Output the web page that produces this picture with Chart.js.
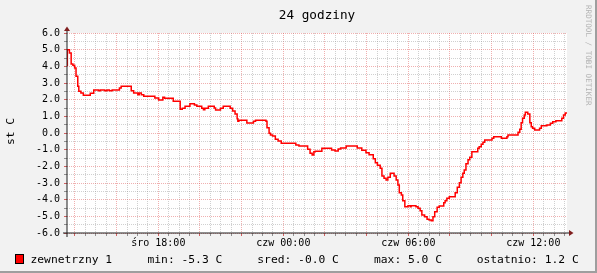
<!DOCTYPE html>
<html><head><meta charset="utf-8">
<script src="https://cdn.jsdelivr.net/npm/chart.js@4/dist/chart.umd.min.js"></script>
<style>html,body{margin:0;padding:0;background:#F2F2F2;overflow:hidden}canvas{display:block}</style>
</head><body>
<canvas id="c" width="597" height="273"></canvas>
<script>
// minutes since the start of the 24 h window (start = 13:37), value holds until next entry
const minutes = [
  0, 1, 7, 12, 17, 22, 26, 31, 34, 40,
  47, 67, 77, 91, 96, 109, 115, 122, 130, 151,
  156, 185, 192, 204, 208, 214, 221, 253, 264, 276,
  281, 306, 326, 332, 340, 354, 367, 374, 388, 393,
  397, 407, 424, 428, 442, 450, 470, 477, 484, 490,
  492, 495, 518, 537, 543, 573, 576, 582, 586, 592,
  600, 608, 617, 659, 668, 693, 700, 706, 711, 715,
  734, 762, 772, 781, 788, 804, 836, 849, 861, 870,
  882, 888, 894, 902, 907, 913, 919, 924, 931, 942,
  948, 953, 957, 963, 967, 973, 982, 989, 991, 1005,
  1011, 1017, 1022, 1030, 1037, 1043, 1049, 1054, 1059, 1066,
  1072, 1085, 1089, 1094, 1101, 1118, 1124, 1130, 1135, 1140,
  1144, 1149, 1155, 1160, 1166, 1183, 1187, 1193, 1198, 1203,
  1224, 1229, 1251, 1267, 1270, 1299, 1304, 1308, 1312, 1317,
  1320, 1327, 1333, 1337, 1341, 1347, 1361, 1366, 1382, 1392,
  1399, 1408, 1425, 1430, 1435, 1440
];
const temps = [
  4.06, 5.0, 4.8, 4.14, 4.06, 3.9, 3.4, 2.8, 2.5, 2.4,
  2.26, 2.38, 2.58, 2.54, 2.58, 2.54, 2.58, 2.54, 2.58, 2.7,
  2.8, 2.54, 2.4, 2.3, 2.4, 2.3, 2.2, 2.1, 1.98, 2.14,
  2.08, 1.9, 1.42, 1.48, 1.6, 1.76, 1.68, 1.6, 1.48, 1.4,
  1.48, 1.6, 1.5, 1.38, 1.48, 1.6, 1.48, 1.32, 1.14, 0.86,
  0.7, 0.76, 0.6, 0.7, 0.76, 0.7, 0.32, -0.02, -0.12, -0.18,
  -0.38, -0.48, -0.62, -0.72, -0.78, -0.98, -1.22, -1.32, -1.12, -1.1,
  -0.92, -1.02, -1.08, -0.96, -0.9, -0.78, -0.9, -1.04, -1.18, -1.3,
  -1.54, -1.78, -1.94, -2.12, -2.58, -2.72, -2.82, -2.66, -2.42, -2.58,
  -2.82, -3.12, -3.58, -3.72, -4.06, -4.42, -4.36, -4.42, -4.36, -4.42,
  -4.52, -4.66, -4.92, -5.02, -5.18, -5.22, -5.26, -5.02, -4.72, -4.46,
  -4.38, -4.18, -4.06, -3.92, -3.82, -3.58, -3.26, -2.98, -2.66, -2.42,
  -2.22, -1.85, -1.6, -1.45, -1.12, -0.92, -0.82, -0.68, -0.56, -0.42,
  -0.32, -0.22, -0.32, -0.22, -0.12, 0.04, 0.22, 0.62, 0.88, 1.08,
  1.24, 1.14, 0.62, 0.38, 0.28, 0.18, 0.28, 0.44, 0.48, 0.58,
  0.68, 0.74, 0.88, 1.08, 1.2, 1.2
];
const xTickMinutes = [263, 623, 983, 1343];
const xTickLabels = ['śro 18:00', 'czw 00:00', 'czw 06:00', 'czw 12:00'];
const yTickValues = [-6, -5, -4, -3, -2, -1, 0, 1, 2, 3, 4, 5, 6];
const titleText = '24 godziny';
const yTitle = 'st C';
const seriesName = 'zewnetrzny 1';
const legendStats = ['min: -5.3 C', 'sred: -0.0 C', 'max: 5.0 C', 'ostatnio: 1.2 C'];
const watermark = 'RRDTOOL / TOBI OETIKER';

const GRID = 'rgba(150,150,150,0.45)';
const MGRID = 'rgba(222,79,79,0.45)';
const TICKG = 'rgba(120,120,120,0.8)';
const TICKM = 'rgba(200,60,60,0.8)';
const MONO = '"DejaVu Sans Mono", monospace';

const minorX = [];
for (let m = 23; m < 1440; m += 30) minorX.push(m);
const minorY = [];
for (let v = -6; v <= 6; v += 0.5) minorY.push(v);
const isMajorX = v => ((v - 23) % 120) === 0;
const isMajorY = v => yTickValues.includes(v);

const deco = {
  id: 'deco',
  beforeDraw(chart) {
    const ctx = chart.ctx, a = chart.chartArea;
    ctx.save();
    ctx.fillStyle = '#F2F2F2'; ctx.fillRect(0, 0, 597, 273);
    ctx.fillStyle = '#9E9E9E'; ctx.fillRect(0, 271, 597, 2); ctx.fillRect(595, 0, 2, 273);
    ctx.fillStyle = '#FFFFFF'; ctx.fillRect(a.left, a.top, a.right - a.left, a.bottom - a.top);
    ctx.restore();
  },
  afterDraw(chart) {
    const ctx = chart.ctx, a = chart.chartArea;
    ctx.save();
    // axes
    ctx.strokeStyle = '#1F1F1F'; ctx.lineWidth = 1;
    ctx.beginPath();
    ctx.moveTo(a.left, a.bottom + 4); ctx.lineTo(a.left, a.top - 4);
    ctx.moveTo(a.left - 4, a.bottom); ctx.lineTo(a.right + 3, a.bottom);
    ctx.stroke();
    ctx.fillStyle = '#801F1F';
    ctx.beginPath();
    ctx.moveTo(a.left, a.top - 6.5); ctx.lineTo(a.left - 3, a.top - 2); ctx.lineTo(a.left + 3, a.top - 2); ctx.closePath(); ctx.fill();
    ctx.beginPath();
    ctx.moveTo(a.right + 6.5, a.bottom); ctx.lineTo(a.right + 2, a.bottom - 3); ctx.lineTo(a.right + 2, a.bottom + 3); ctx.closePath(); ctx.fill();
    // title
    ctx.fillStyle = '#000';
    ctx.font = '12.7px ' + MONO;
    ctx.textAlign = 'center'; ctx.textBaseline = 'alphabetic';
    ctx.fillText(titleText, (a.left + a.right) / 2, 18.5);
    // y title
    ctx.save();
    ctx.translate(11, 131.5); ctx.rotate(-Math.PI / 2);
    ctx.font = '11.3px ' + MONO; ctx.textAlign = 'center'; ctx.textBaseline = 'middle';
    ctx.fillText(yTitle, 0, 0);
    ctx.restore();
    // legend
    ctx.fillStyle = '#FF0000'; ctx.fillRect(15.5, 254.5, 8, 9);
    ctx.strokeStyle = '#000'; ctx.lineWidth = 1; ctx.strokeRect(15.5, 254.5, 8, 9);
    ctx.fillStyle = '#000'; ctx.font = '11.3px ' + MONO; ctx.textAlign = 'left';
    ctx.fillText(seriesName, 30.5, 263);
    const xs = [147.5, 257.3, 374, 476.7];
    legendStats.forEach((t, i) => ctx.fillText(t, xs[i], 263));
    // watermark
    ctx.save();
    ctx.translate(588, 5); ctx.rotate(Math.PI / 2);
    ctx.font = '7.6px ' + MONO; ctx.fillStyle = '#B4B4B4'; ctx.textAlign = 'left'; ctx.textBaseline = 'middle';
    ctx.fillText(watermark, 0, 0);
    ctx.restore();
    ctx.restore();
  }
};

new Chart(document.getElementById('c'), {
  type: 'line',
  data: {
    datasets: [{
      data: minutes.map((m, i) => ({ x: m, y: temps[i] })),
      borderColor: '#FF0000', borderWidth: 1.5, pointRadius: 0,
      stepped: 'before', fill: false, tension: 0
    }]
  },
  options: {
    responsive: false, animation: false, devicePixelRatio: 1,
    layout: { padding: { top: 33, right: 30, left: 0, bottom: 0 } },
    plugins: { legend: { display: false }, title: { display: false }, tooltip: { enabled: false } },
    scales: {
      x: {
        type: 'linear', min: 0, max: 1440,
        afterBuildTicks(s) { s.ticks = minorX.map(v => ({ value: v })); },
        afterFit(s) { s.height = 40; },
        grid: {
          color: c => isMajorX(c.tick.value) ? MGRID : GRID,
          tickColor: c => isMajorX(c.tick.value) ? TICKM : TICKG,
          tickLength: 3, lineWidth: 1
        },
        border: { display: false, dash: [1, 1] },
        ticks: {
          autoSkip: false, maxRotation: 0, minRotation: 0, padding: 1, color: '#000',
          font: { family: MONO, size: 10 },
          callback: v => { const i = xTickMinutes.indexOf(v); return i >= 0 ? xTickLabels[i] : ''; }
        }
      },
      y: {
        min: -6, max: 6,
        afterBuildTicks(s) { s.ticks = minorY.map(v => ({ value: v })); },
        afterFit(s) { s.width = 67; },
        grid: {
          color: c => isMajorY(c.tick.value) ? MGRID : GRID,
          tickColor: c => isMajorY(c.tick.value) ? TICKM : TICKG,
          tickLength: 3, lineWidth: 1
        },
        border: { display: false, dash: [1, 1] },
        ticks: {
          autoSkip: false, padding: 4, color: '#000',
          font: { family: MONO, size: 10 },
          callback: v => isMajorY(v) ? v.toFixed(1) : ''
        }
      }
    }
  },
  plugins: [deco]
});
</script>
</body></html>
